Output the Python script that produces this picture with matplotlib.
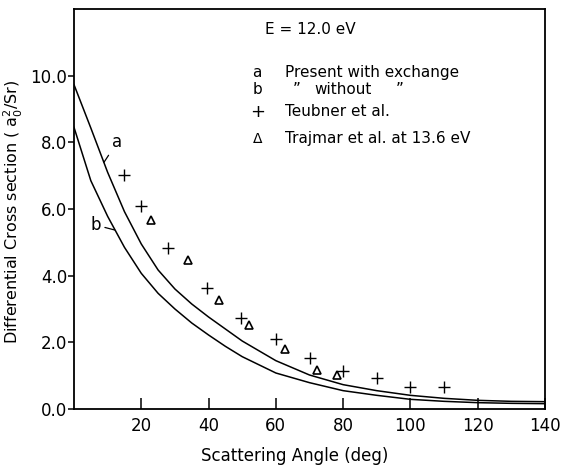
import numpy as np
import matplotlib
matplotlib.use("Agg")
import matplotlib.pyplot as plt

# curves (angle in deg, DCS in a0^2/sr)
angle = [0, 5, 10, 15, 20, 25, 30, 35, 40, 45, 50, 60, 70, 80, 90, 100, 110, 120, 130, 140]
with_exch = [9.73, 8.43, 7.10, 5.92, 4.95, 4.17, 3.60, 3.15, 2.76, 2.40, 2.04, 1.45, 1.02, 0.73,
             0.55, 0.41, 0.32, 0.26, 0.23, 0.22]
without_exch = [8.45, 6.85, 5.78, 4.85, 4.07, 3.47, 3.00, 2.58, 2.22, 1.88, 1.57, 1.08, 0.79, 0.55,
                0.41, 0.29, 0.23, 0.19, 0.17, 0.16]

teubner_x = [15, 20, 28, 39.5, 49.5, 60, 70, 80, 90, 100, 110]
teubner_y = [7.03, 6.08, 4.83, 3.62, 2.72, 2.10, 1.53, 1.15, 0.93, 0.67, 0.66]

trajmar_x = [23, 34, 43, 52, 62.8, 72.2, 78.2]
trajmar_y = [5.67, 4.48, 3.28, 2.51, 1.80, 1.18, 1.03]

xticks = [20, 40, 60, 80, 100, 120, 140]
yticks = [0, 2, 4, 6, 8, 10]

fig = plt.figure(figsize=(5.62, 4.70), dpi=100)
ax = fig.add_axes([74/562, 1 - 409/470, 471/562, 400/470])

ax.plot(angle, with_exch, 'k-', lw=1.1)
ax.plot(angle, without_exch, 'k-', lw=1.1)
ax.plot(teubner_x, teubner_y, 'k+', ms=8, mew=1.0)
ax.plot(trajmar_x, trajmar_y, 'k^', ms=5.5, mfc='none', mew=1.2)

ax.set_xlim(0, 140)
ax.set_ylim(0, 12)
ax.set_xticks(xticks)
ax.set_yticks(yticks)
ax.set_yticklabels(['%.1f' % v for v in yticks])
ax.tick_params(axis='x', direction='in', length=8, width=1.1, labelsize=12, pad=6)
ax.tick_params(axis='y', direction='out', length=4, width=1.1, labelsize=12, pad=1)
for s in ax.spines.values():
    s.set_linewidth(1.3)

ax.set_xlabel('Scattering Angle (deg)', fontsize=12)
ax.xaxis.set_label_coords(0.469, -0.095)
ax.set_ylabel(r'Differential Cross section ( a$_0^2$/Sr)', fontsize=11.5)
ax.yaxis.set_label_coords(-0.104, 0.4925)

# curve labels with short leaders
ax.annotate('a', xy=(8.9, 7.40), xytext=(12.8, 8.0), fontsize=12, ha='center', va='center',
            arrowprops=dict(arrowstyle='-', lw=0.9, shrinkA=1, shrinkB=0))
ax.annotate('b', xy=(12.1, 5.37), xytext=(6.4, 5.52), fontsize=12, ha='center', va='center',
            arrowprops=dict(arrowstyle='-', lw=0.9, shrinkA=1, shrinkB=0))

# legend written as text, as in the original
tr = ax.transAxes
fs = 11
ax.text(0.405, 0.9475, 'E = 12.0 eV', transform=tr, fontsize=fs, va='center')
ax.text(0.389, 0.842, 'a', transform=tr, fontsize=fs, va='center', ha='center')
ax.text(0.448, 0.842, 'Present with exchange', transform=tr, fontsize=fs, va='center')
ax.text(0.389, 0.7975, 'b', transform=tr, fontsize=fs, va='center', ha='center')
ax.text(0.473, 0.7975, '\u201d', transform=tr, fontsize=fs, va='center', ha='center')
ax.text(0.510, 0.7975, 'without', transform=tr, fontsize=fs, va='center')
ax.text(0.692, 0.7975, '\u201d', transform=tr, fontsize=fs, va='center', ha='center')
ax.text(0.389, 0.7425, '+', transform=tr, fontsize=13, va='center', ha='center')
ax.text(0.448, 0.7425, 'Teubner et al.', transform=tr, fontsize=fs, va='center')
ax.text(0.389, 0.675, '\u0394', transform=tr, fontsize=10, va='center', ha='center')
ax.text(0.448, 0.675, 'Trajmar et al. at 13.6 eV', transform=tr, fontsize=fs, va='center')

fig.savefig('out.png', dpi=100)
